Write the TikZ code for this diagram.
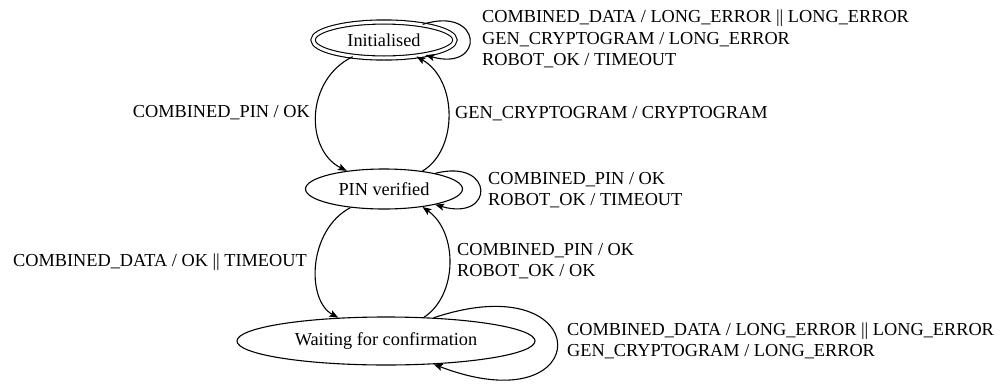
\documentclass[tikz,border=0pt]{standalone}
\usepackage{fontspec}
\setmainfont{Liberation Serif}
\usetikzlibrary{shapes.geometric,arrows.meta}
\begin{document}
\begin{tikzpicture}[x=1pt,y=-1pt,
  state/.style={ellipse,draw,line width=1.1pt,inner sep=0pt,font=\fontsize{18.3}{21.5}\selectfont},
  lbl/.style={inner sep=0pt,align=left,font=\fontsize{18.3}{21.5}\selectfont},
  edge/.style={line width=1.1pt,-{Stealth[length=9pt,width=7pt,inset=2pt]}}]
\useasboundingbox (0,0) rectangle (1000,383);
\node[state,double,double distance=3pt,minimum width=142pt,minimum height=36pt] (init) at (384,40) {Initialised};
\node[state,minimum width=157pt,minimum height=40pt] (pin) at (384,189) {PIN verified};
\node[state,minimum width=298pt,minimum height=48pt] (wait) at (386,341) {Waiting for confirmation};

% Initialised self-loop
\draw[edge] (init.22) .. controls (483,5) and (486,72) .. (init.-20);
\node[lbl,anchor=west] (l1) at (482,39) {COMBINED\_DATA / LONG\_ERROR || LONG\_ERROR\\GEN\_CRYPTOGRAM / LONG\_ERROR\\ROBOT\_OK / TIMEOUT};

% Initialised -> PIN verified
\draw[edge] (init.208) .. controls (305,80) and (305,150) .. (pin.154);
\node[lbl,anchor=east] (l2) at (310,113) {COMBINED\_PIN / OK};

% PIN verified -> Initialised
\draw[edge] (pin.25) .. controls (458,150) and (458,80) .. (init.-27);
\node[lbl,anchor=west] (l3) at (455,114) {GEN\_CRYPTOGRAM / CRYPTOGRAM};

% PIN verified self-loop
\draw[edge] (pin.17) .. controls (495,158) and (495,222) .. (pin.-17);
\node[lbl,anchor=west] (l4) at (488,190) {COMBINED\_PIN / OK\\ROBOT\_OK / TIMEOUT};

% PIN verified -> Waiting
\draw[edge] (pin.209) .. controls (308,230) and (306,300) .. (wait.154);
\node[lbl,anchor=east] (l5) at (307,262) {COMBINED\_DATA / OK || TIMEOUT};

% Waiting -> PIN verified
\draw[edge] (wait.32) .. controls (458,295) and (458,232) .. (pin.-25);
\node[lbl,anchor=west] (l6) at (457,261) {COMBINED\_PIN / OK\\ROBOT\_OK / OK};

% Waiting self-loop
\draw[edge] (wait.26) .. controls (598,263) and (598,427) .. (wait.-26);
\node[lbl,anchor=west] (l7) at (567,341) {COMBINED\_DATA / LONG\_ERROR || LONG\_ERROR\\GEN\_CRYPTOGRAM / LONG\_ERROR};
\end{tikzpicture}
\end{document}
